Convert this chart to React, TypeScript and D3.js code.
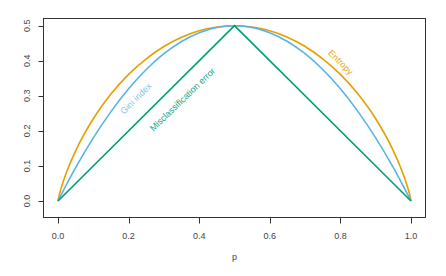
import React from "react";
import * as d3 from "d3";

const pValues = [0, 0.001, 0.005, 0.01, 0.02, 0.03, 0.05, 0.1, 0.15, 0.2, 0.25, 0.3, 0.35, 0.4, 0.45, 0.5,
  0.55, 0.6, 0.65, 0.7, 0.75, 0.8, 0.85, 0.9, 0.95, 0.97, 0.98, 0.99, 0.995, 0.999, 1];
const entropyValues = [0, 0.0057, 0.0227, 0.0404, 0.0707, 0.0972, 0.1432, 0.2345, 0.3049, 0.361, 0.4056, 0.4406, 0.467, 0.4855, 0.4964, 0.5,
  0.4964, 0.4855, 0.467, 0.4406, 0.4056, 0.361, 0.3049, 0.2345, 0.1432, 0.0972, 0.0707, 0.0404, 0.0227, 0.0057, 0];
const giniValues = [0, 0.002, 0.00995, 0.0198, 0.0392, 0.0582, 0.095, 0.18, 0.255, 0.32, 0.375, 0.42, 0.455, 0.48, 0.495, 0.5,
  0.495, 0.48, 0.455, 0.42, 0.375, 0.32, 0.255, 0.18, 0.095, 0.0582, 0.0392, 0.0198, 0.00995, 0.002, 0];
const missP = [0, 0.5, 1];
const missValues = [0, 0.5, 0];
const xTicks = [0, 0.2, 0.4, 0.6, 0.8, 1.0];
const yTicks = [0, 0.1, 0.2, 0.3, 0.4, 0.5];

export default function App() {
  const W = 446, H = 276;
  const box = { left: 43.5, right: 425.5, top: 18.5, bottom: 217.5 };
  const x = d3.scaleLinear().domain([0, 1]).range([58, 411]);
  const y = d3.scaleLinear().domain([0, 0.5]).range([201, 25.7]);
  const font = "'Liberation Sans', Arial, Helvetica, sans-serif";
  const axisCol = "#333";
  const line = (xs: number[], ys: number[], curve: any) =>
    d3.line<number>().x((_, i) => x(xs[i])).y((d) => y(d)).curve(curve)(ys) || "";

  return (
    <svg width={W} height={H} style={{ position: "absolute", left: 0, top: 0, background: "#fff" }} fontFamily={font}>
      <rect x={box.left} y={box.top} width={box.right - box.left} height={box.bottom - box.top} fill="none" stroke={axisCol} strokeWidth={1} />
      {xTicks.map((t) => (
        <g key={"x" + t}>
          <line x1={Math.round(x(t)) + 0.5} x2={Math.round(x(t)) + 0.5} y1={box.bottom} y2={box.bottom + 6} stroke={axisCol} />
          <text x={x(t)} y={238.5} fontSize={9} fill="#444" textAnchor="middle">{t.toFixed(1)}</text>
        </g>
      ))}
      {yTicks.map((t) => (
        <g key={"y" + t}>
          <line x1={box.left - 5} x2={box.left} y1={Math.round(y(t)) + 0.5} y2={Math.round(y(t)) + 0.5} stroke={axisCol} />
          <text transform={`translate(30.2,${y(t)}) rotate(-90)`} fontSize={9} fill="#444" textAnchor="middle">{t.toFixed(1)}</text>
        </g>
      ))}
      <text x={234.5} y={259.5} fontSize={9} fill="#444" textAnchor="middle">p</text>
      <path d={line(pValues, entropyValues, d3.curveMonotoneX)} fill="none" stroke="#E69F00" strokeWidth={1.6} />
      <path d={line(pValues, giniValues, d3.curveMonotoneX)} fill="none" stroke="#56B4E9" strokeWidth={1.6} />
      <path d={line(missP, missValues, d3.curveLinear)} fill="none" stroke="#009E73" strokeWidth={1.6} />
      <text transform="translate(136,98.5) rotate(-45)" fontSize={9} fill="#86C4E8" textAnchor="middle" dominantBaseline="central">Gini index</text>
      <text transform="translate(182.5,99.5) rotate(-44)" fontSize={9} fill="#1AA57E" textAnchor="middle" dominantBaseline="central">Misclassification error</text>
      <text transform="translate(340.7,62.3) rotate(45)" fontSize={9} fill="#E6A824" textAnchor="middle" dominantBaseline="central">Entropy</text>
    </svg>
  );
}
